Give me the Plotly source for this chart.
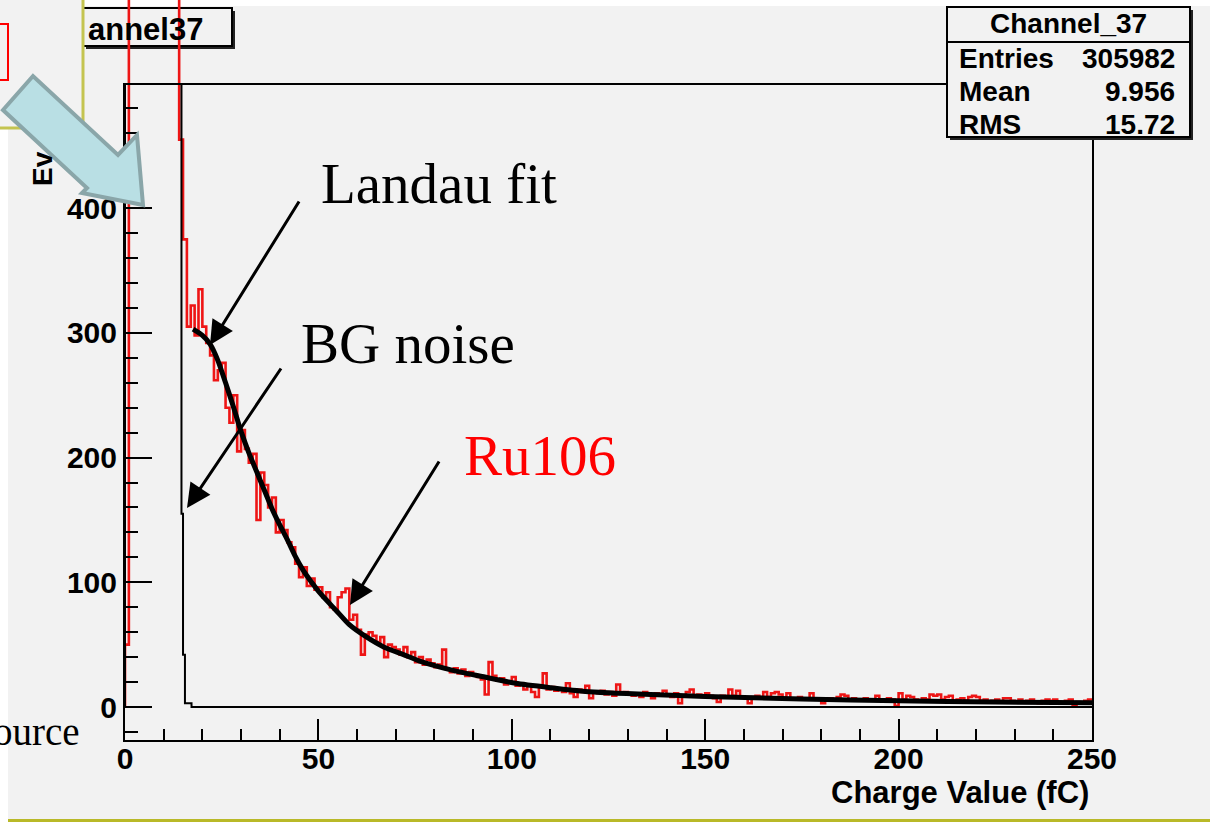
import plotly.graph_objects as go

W, H = 1210, 822

# ---------------- data ----------------
# Ru106 source histogram (red), 1 fC bins starting at 0 fC; 3000 = off-scale pedestal
red_counts = [
    50, 3000, 3000, 3000, 3000, 3000, 3000, 3000, 3000, 3000,
    3000, 3000, 3000, 3000, 455, 375, 305, 322, 298, 335,
    305, 292, 282, 262, 270, 276, 240, 228, 250, 205,
    222, 207, 196, 203, 150, 188, 178, 160, 168, 140,
    150, 142, 132, 128, 115, 104, 112, 97, 103, 94,
    96, 88, 92, 80, 78, 88, 92, 95, 70, 74,
    62, 42, 58, 60, 57, 52, 56, 40, 50, 48,
    46, 42, 48, 40, 44, 36, 40, 34, 38, 35,
    32, 34, 46, 30, 28, 31, 27, 30, 25, 28,
    26, 24, 22, 10, 36, 25, 21, 23, 18, 20,
    24, 17, 19, 14, 18, 12, 8, 17, 27, 14,
    16, 13, 15, 12, 19, 11, 8, 14, 12, 17,
    7, 12, 11, 13, 10, 12, 9, 18, 11, 12,
    10, 9, 11, 8, 12, 10, 7, 11, 9, 13,
    10, 8, 11, 3, 9, 12, 14, 9, 10, 8,
    11, 9, 7, 4, 9, 8, 14, 9, 13, 8,
    7, 3, 8, 9, 7, 12, 8, 11, 12, 10,
    7, 11, 6, 7, 8, 6, 7, 11, 6, 7,
    3, 6, 7, 6, 8, 10, 9, 6, 7, 5,
    6, 7, 5, 6, 9, 6, 5, 7, 6, 1,
    11, 6, 9, 8, 6, 5, 7, 6, 10, 9,
    10, 6, 8, 9, 5, 6, 7, 5, 8, 9,
    8, 5, 6, 4, 5, 6, 4, 7, 7, 5,
    4, 6, 4, 5, 6, 4, 3, 5, 6, 5,
    6, 4, 3, 5, 6, 1, 4, 3, 5, 6,
]
red_bin_width = 1.0

# BG noise histogram (black): bin edges (fC) and counts; 3000 = off-scale pedestal
bg_edges = [0, 14.6, 15.0, 15.5, 17.2, 250]
bg_counts = [3000, 155, 42, 3, 0]

# Landau fit curve (black, thick)
fit_x = [17.6, 20, 22, 24, 26, 28, 30, 32, 34, 36, 38, 40, 42, 44, 46, 48, 50, 52, 55, 58,
         62, 67, 72, 76, 84, 93, 101, 110, 119, 136, 150, 175, 200, 225, 250]
fit_y = [303, 298, 291, 278, 260, 241, 221, 204, 189, 174, 159, 146, 134, 121, 110, 101, 93, 86, 76, 66,
         57, 48, 42, 37, 30, 24, 19, 15.5, 12.5, 10, 8.5, 6.5, 5, 4, 3.5]

x_ticks = [0, 50, 100, 150, 200, 250]
y_ticks = [0, 100, 200, 300, 400]
x_title = "Charge Value (fC)"
y_title_visible = "Ev"
hist_title_visible = "annel37"
stats_name = "Channel_37"
stats_labels = ["Entries", "Mean", "RMS"]
stats_values = ["305982", "9.956", "15.72"]
slide_labels = ["Landau fit", "BG noise", "Ru106"]
side_text = "ource"

# ---------------- helpers (pixel -> paper) ----------------
def px(x):
    return x / W

def py(y):
    return 1 - y / H

# step arrays
red_x = [0.0, 0.0] + [red_bin_width * (i + 1) for i in range(len(red_counts))]
red_y = [0] + red_counts + [red_counts[-1]]
bg_x = [bg_edges[0]] + bg_edges
bg_y = [0] + bg_counts + [bg_counts[-1]]

# geometry of the ROOT frame
FL, FR, FT, FB = 125, 1092, 85, 740
Y0 = 707.0           # pixel row of value 0
PPU = 1.247          # pixels per count

fig = go.Figure()

# red histogram in an extended subplot (reaches above the frame like the original)
fig.add_trace(go.Scatter(x=red_x, y=red_y, mode="lines", line=dict(color="#ee1515", width=2.6, shape="hv"),
                         xaxis="x", yaxis="y", showlegend=False, hoverinfo="skip"))
# BG noise & fit in the framed subplot
fig.add_trace(go.Scatter(x=bg_x, y=bg_y, mode="lines", line=dict(color="black", width=2, shape="hv"),
                         xaxis="x3", yaxis="y2", showlegend=False, hoverinfo="skip"))
fig.add_trace(go.Scatter(x=fit_x, y=fit_y, mode="lines", line=dict(color="black", width=5, shape="spline", smoothing=0.6),
                         xaxis="x2", yaxis="y2", showlegend=False, hoverinfo="skip"))

tickfont = dict(family="Liberation Sans", size=30, color="black", weight="bold")
xdom = [px(FL), px(FR)]

fig.update_layout(
    width=W, height=H, autosize=False,
    margin=dict(l=0, r=0, t=0, b=0, pad=0, autoexpand=False),
    paper_bgcolor="#f2f2f2",
    plot_bgcolor="rgba(0,0,0,0)",
    xaxis=dict(domain=xdom, range=[0, 250], visible=False, anchor="y", fixedrange=True),
    yaxis=dict(domain=[py(FB), 1], range=[-(FB - Y0) / PPU, Y0 / PPU], visible=False, anchor="x", fixedrange=True),
    xaxis2=dict(domain=xdom, range=[0, 250], anchor="y2", showline=True, linecolor="black", linewidth=2,
                mirror=True, ticks="inside", ticklen=21, tickwidth=2, tickcolor="black",
                tickmode="array", tickvals=x_ticks, showticklabels=False,
                minor=dict(ticks="inside", ticklen=11, tickwidth=2, tickcolor="black", dtick=10, tick0=0),
                showgrid=False, zeroline=False, fixedrange=True, automargin=False),
    # label-only axis, placed so the labels sit where ROOT puts them
    xaxis3=dict(overlaying="x2", anchor="free", position=py(738), range=[0, 250], showline=False,
                ticks="", tickmode="array", tickvals=x_ticks, ticktext=[str(v) for v in x_ticks],
                showgrid=False, zeroline=False, tickfont=tickfont, fixedrange=True, automargin=False),
    yaxis2=dict(domain=[py(FB), py(FT)], range=[-(FB - Y0) / PPU, (Y0 - FT) / PPU], anchor="x2",
                showline=True, linecolor="black", linewidth=2, mirror=True,
                ticks="inside", ticklen=27, tickwidth=2, tickcolor="black",
                tickmode="array", tickvals=y_ticks, ticktext=[str(v) for v in y_ticks],
                minor=dict(ticks="inside", ticklen=13, tickwidth=2, tickcolor="black", dtick=20, tick0=0),
                showgrid=False, zeroline=False, tickfont=tickfont, fixedrange=True, automargin=False),
)

shapes = []
# white margins of the slide
shapes.append(dict(type="rect", xref="paper", yref="paper", x0=px(83), x1=px(W), y0=py(6), y1=py(0),
                   fillcolor="white", line=dict(width=0), layer="below"))
shapes.append(dict(type="rect", xref="paper", yref="paper", x0=px(0), x1=px(8), y0=py(H), y1=py(129),
                   fillcolor="white", line=dict(width=0), layer="below"))
# olive bottom rule
shapes.append(dict(type="rect", xref="paper", yref="paper", x0=px(8), x1=px(W), y0=py(H), y1=py(819),
                   fillcolor="#b9b928", line=dict(width=0), layer="above"))
# title box (with shadow)
shapes.append(dict(type="rect", xref="paper", yref="paper", x0=px(86), x1=px(235), y0=py(49), y1=py(11),
                   fillcolor="#222222", line=dict(width=0), layer="below"))
shapes.append(dict(type="rect", xref="paper", yref="paper", x0=px(60), x1=px(232), y0=py(46), y1=py(8),
                   fillcolor="#f2f2f2", line=dict(color="black", width=2), layer="below"))
# stats box (with shadow)
shapes.append(dict(type="rect", xref="paper", yref="paper", x0=px(950), x1=px(1193), y0=py(140), y1=py(10),
                   fillcolor="#222222", line=dict(width=0), layer="above"))
shapes.append(dict(type="rect", xref="paper", yref="paper", x0=px(947), x1=px(1190), y0=py(137), y1=py(7),
                   fillcolor="#f2f2f2", line=dict(color="black", width=2), layer="above"))
shapes.append(dict(type="line", xref="paper", yref="paper", x0=px(947), x1=px(1190), y0=py(42), y1=py(42),
                   line=dict(color="black", width=2), layer="above"))
# slide box at the top left (olive border) and red box inside
shapes.append(dict(type="rect", xref="paper", yref="paper", x0=px(-10), x1=px(83), y0=py(128), y1=py(-10),
                   fillcolor="#f2f2f2", line=dict(color="#c4c450", width=3), layer="above"))
shapes.append(dict(type="rect", xref="paper", yref="paper", x0=px(-10), x1=px(8), y0=py(80), y1=py(24),
                   fillcolor="rgba(0,0,0,0)", line=dict(color="red", width=2), layer="above"))
# big light-blue block arrow
arrow_pts = [(3, 110), (33, 76), (118, 155), (137, 135), (143, 205), (82, 193), (87, 188)]
path = "M " + " L ".join(f"{px(a):.5f},{py(b):.5f}" for a, b in arrow_pts) + " Z"
shapes.append(dict(type="path", xref="paper", yref="paper", path=path,
                   fillcolor="#b9dfe4", line=dict(color="#8aa6a9", width=4), layer="above"))
fig.update_layout(shapes=shapes)

ann = []
root_font = dict(family="Liberation Sans", size=28, color="black", weight="bold")
# histogram title (partly hidden in the original)
ann.append(dict(text=hist_title_visible, xref="paper", yref="paper", x=px(86), y=py(29),
                xanchor="left", yanchor="middle", showarrow=False,
                font=dict(family="Liberation Sans", size=31, color="black", weight="bold")))
# stats box
ann.append(dict(text=stats_name, xref="paper", yref="paper", x=px(1068), y=py(24),
                xanchor="center", yanchor="middle", showarrow=False, font=root_font))
for i, (lab, val) in enumerate(zip(stats_labels, stats_values)):
    yy = 58 + i * 33.5
    ann.append(dict(text=lab, xref="paper", yref="paper", x=px(957), y=py(yy),
                    xanchor="left", yanchor="middle", showarrow=False, font=root_font))
    ann.append(dict(text=val, xref="paper", yref="paper", x=px(1177), y=py(yy),
                    xanchor="right", yanchor="middle", showarrow=False, font=root_font))
# axis titles
ann.append(dict(text=x_title, xref="paper", yref="paper", x=px(1091), y=py(792),
                xanchor="right", yanchor="middle", showarrow=False,
                font=dict(root_font, size=31)))
ann.append(dict(text=y_title_visible, xref="paper", yref="paper", x=px(42), y=py(169),
                xanchor="center", yanchor="middle", textangle=-90, showarrow=False, font=root_font))
# slide labels
serif = dict(family="Liberation Serif", size=57, color="black")
ann.append(dict(text=slide_labels[0], xref="paper", yref="paper", x=px(319), y=py(183),
                xanchor="left", yanchor="middle", showarrow=False, font=serif))
ann.append(dict(text=slide_labels[1], xref="paper", yref="paper", x=px(299), y=py(344),
                xanchor="left", yanchor="middle", showarrow=False, font=serif))
ann.append(dict(text=slide_labels[2], xref="paper", yref="paper", x=px(462), y=py(455),
                xanchor="left", yanchor="middle", showarrow=False, font=dict(serif, color="red")))
ann.append(dict(text=side_text, xref="paper", yref="paper", x=px(82), y=py(731),
                xanchor="right", yanchor="middle", showarrow=False,
                font=dict(family="Liberation Serif", size=39, color="black")))
# black pointer arrows (head position, tail offset)
for (hx, hy, tx, ty) in [(210, 345, 300, 200), (187, 508, 282, 367), (350, 605, 440, 460)]:
    ann.append(dict(text="", xref="paper", yref="paper", x=px(hx), y=py(hy),
                    ax=tx - hx, ay=ty - hy, showarrow=True, arrowhead=2, arrowsize=1.6,
                    arrowwidth=3, arrowcolor="black", standoff=0))
fig.update_layout(annotations=ann)

fig.write_html("out.html", config={"responsive": False, "displayModeBar": False})
